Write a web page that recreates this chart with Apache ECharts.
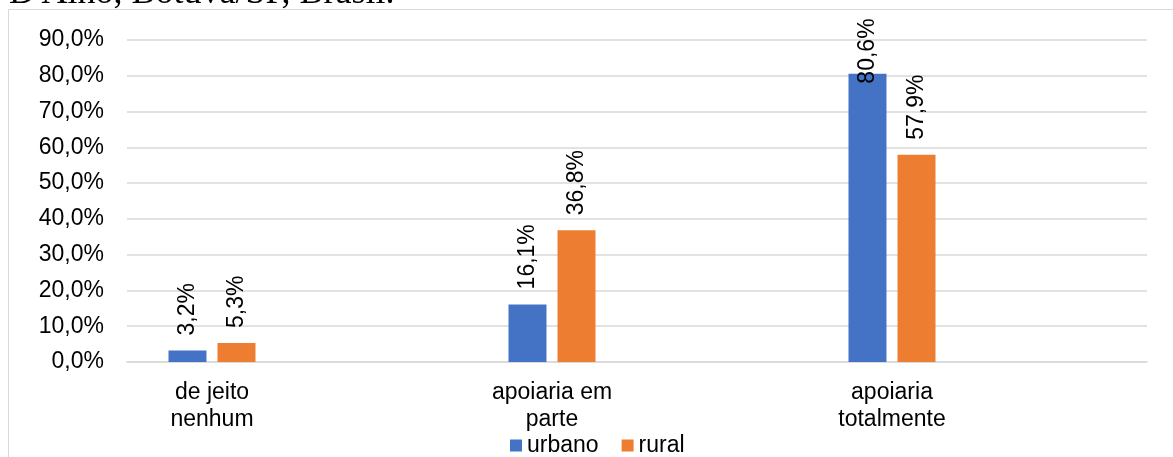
<!DOCTYPE html>
<html>
<head>
<meta charset="utf-8">
<script src="https://cdn.jsdelivr.net/npm/echarts@6/dist/echarts.min.js"></script>
<style>
  html, body { margin: 0; padding: 0; background: #fff; }
  #chart { width: 1173px; height: 457px; }
</style>
</head>
<body>
<div id="chart"></div>
<script>
// Categories (blank slots keep the groups spread across the axis)
const categories = ['de jeito\nnenhum', '', 'apoiaria em\nparte', '', 'apoiaria\ntotalmente', ''];
const urbano = [3.2, null, 16.1, null, 80.6, null];
const rural = [5.3, null, 36.8, null, 57.9, null];
const seriesNames = ['urbano', 'rural'];
const yTicks = { min: 0, max: 90, interval: 10 };

const FONT = 'Liberation Sans, Arial, sans-serif';
const fmtPct = v => v.toFixed(1).replace('.', ',') + '%';

// Labels that would run past the top of the plot get pinned inside the bar
function toData(values) {
  return values.map(v => {
    if (v == null) return null;
    if (v > 75) {
      return { value: v, label: { position: ['50%', 10] } };
    }
    return v;
  });
}

const barLabel = {
  show: true,
  position: 'top',
  distance: 15,
  rotate: 90,
  align: 'left',
  verticalAlign: 'middle',
  fontFamily: FONT,
  fontSize: 23,
  color: '#000',
  formatter: p => fmtPct(p.value)
};

const chart = echarts.init(document.getElementById('chart'), null, { renderer: 'canvas' });
chart.setOption({
  animation: false,
  backgroundColor: '#fff',
  graphic: [
    {
      type: 'rect',
      shape: { x: 8.5, y: 9.5, width: 1200, height: 500 },
      style: { fill: 'none', stroke: '#d9d9d9', lineWidth: 1 },
      silent: true
    },
    {
      type: 'text',
      left: 9,
      top: -24,
      style: {
        text: "D'Alho, Botuvá/SP, Brasil.",
        font: '36px "Liberation Serif", "Times New Roman", serif',
        fill: '#000'
      },
      silent: true
    }
  ],
  grid: { left: 127, right: 26, top: 40, bottom: 95, containLabel: false },
  legend: {
    data: seriesNames,
    bottom: -5,
    left: 505,
    icon: 'rect',
    itemWidth: 12,
    itemHeight: 12,
    itemGap: 23,
    textStyle: { fontFamily: FONT, fontSize: 23, color: '#000' }
  },
  xAxis: {
    type: 'category',
    data: categories,
    axisLine: { show: true, lineStyle: { color: '#d9d9d9', width: 1.5 } },
    axisTick: { show: false },
    axisLabel: {
      interval: 0,
      margin: 17,
      fontFamily: FONT,
      fontSize: 23,
      lineHeight: 27,
      color: '#000'
    }
  },
  yAxis: {
    type: 'value',
    min: yTicks.min,
    max: yTicks.max,
    interval: yTicks.interval,
    axisLine: { show: false },
    axisTick: { show: false },
    splitLine: { lineStyle: { color: '#d9d9d9', width: 1.5 } },
    axisLabel: {
      margin: 23,
      fontFamily: FONT,
      fontSize: 23,
      color: '#000',
      formatter: v => fmtPct(v)
    }
  },
  series: [
    {
      name: seriesNames[0],
      type: 'bar',
      data: toData(urbano),
      barWidth: 38,
      barGap: '29%',
      itemStyle: { color: '#4472C4' },
      label: barLabel
    },
    {
      name: seriesNames[1],
      type: 'bar',
      data: toData(rural),
      barWidth: 38,
      barGap: '29%',
      itemStyle: { color: '#ED7D31' },
      label: barLabel
    }
  ]
});
</script>
</body>
</html>
